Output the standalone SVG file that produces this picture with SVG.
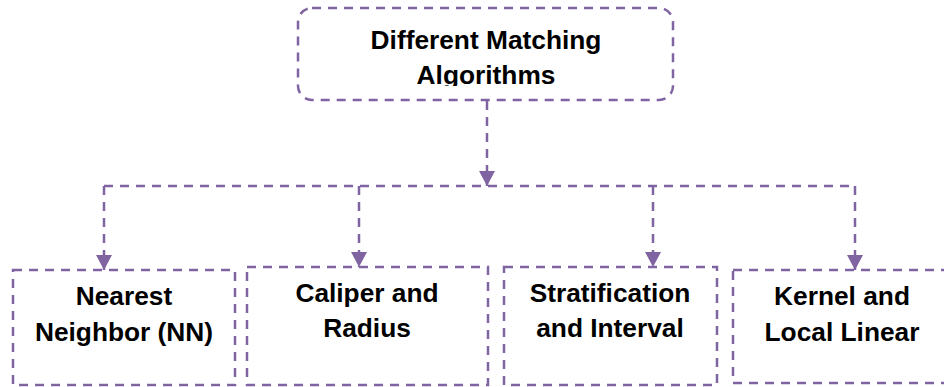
<svg xmlns="http://www.w3.org/2000/svg" width="944" height="387" viewBox="0 0 944 387">
<style>
.box{fill:#fff;stroke:#8064A2;stroke-width:2.5;stroke-dasharray:9 7}
.ln{fill:none;stroke:#8064A2;stroke-width:2.5;stroke-dasharray:9 7}
.t{font-family:"Liberation Sans",Arial,sans-serif;font-weight:bold;font-size:26.3px;fill:#000;text-anchor:middle}
</style>
<defs>
<marker id="arr" viewBox="0 0 15 16" refX="15" refY="8" markerWidth="15" markerHeight="16" markerUnits="userSpaceOnUse" orient="auto">
<path d="M0,0 L15,8 L0,16 Z" fill="#8064A2"/>
</marker>
<clipPath id="clipTop"><rect x="298" y="8" width="375" height="78"/></clipPath>
</defs>
<rect width="944" height="387" fill="#fff"/>
<g id="connectors">
<path class="ln" d="M487,101 V186" marker-end="url(#arr)"/>
<path class="ln" d="M104,186 H855"/>
<path class="ln" d="M104,186 V270" marker-end="url(#arr)"/>
<path class="ln" d="M359,186 V267" marker-end="url(#arr)"/>
<path class="ln" d="M653,186 V267" marker-end="url(#arr)"/>
<path class="ln" d="M855,186 V270" marker-end="url(#arr)"/>
</g>
<g id="root">
<rect class="box" x="298" y="8" width="375" height="92" rx="14"/>
<g clip-path="url(#clipTop)">
<text class="t" x="486" y="49">Different Matching</text>
<text class="t" x="486" y="84">Algorithms</text>
</g>
</g>
<g id="nn">
<rect class="box" x="13" y="270" width="222" height="115"/>
<text class="t" x="124" y="305">Nearest</text>
<text class="t" x="124" y="341">Neighbor (NN)</text>
</g>
<g id="caliper">
<rect class="box" x="247" y="267" width="241" height="118"/>
<text class="t" x="367" y="302">Caliper and</text>
<text class="t" x="367" y="337">Radius</text>
</g>
<g id="strat">
<rect class="box" x="504" y="267" width="213" height="118"/>
<text class="t" x="610" y="302">Stratification</text>
<text class="t" x="610" y="337">and Interval</text>
</g>
<g id="kernel">
<rect class="box" x="733" y="270" width="220" height="113"/>
<text class="t" x="842" y="305">Kernel and</text>
<text class="t" x="842" y="341">Local Linear</text>
</g>
</svg>
